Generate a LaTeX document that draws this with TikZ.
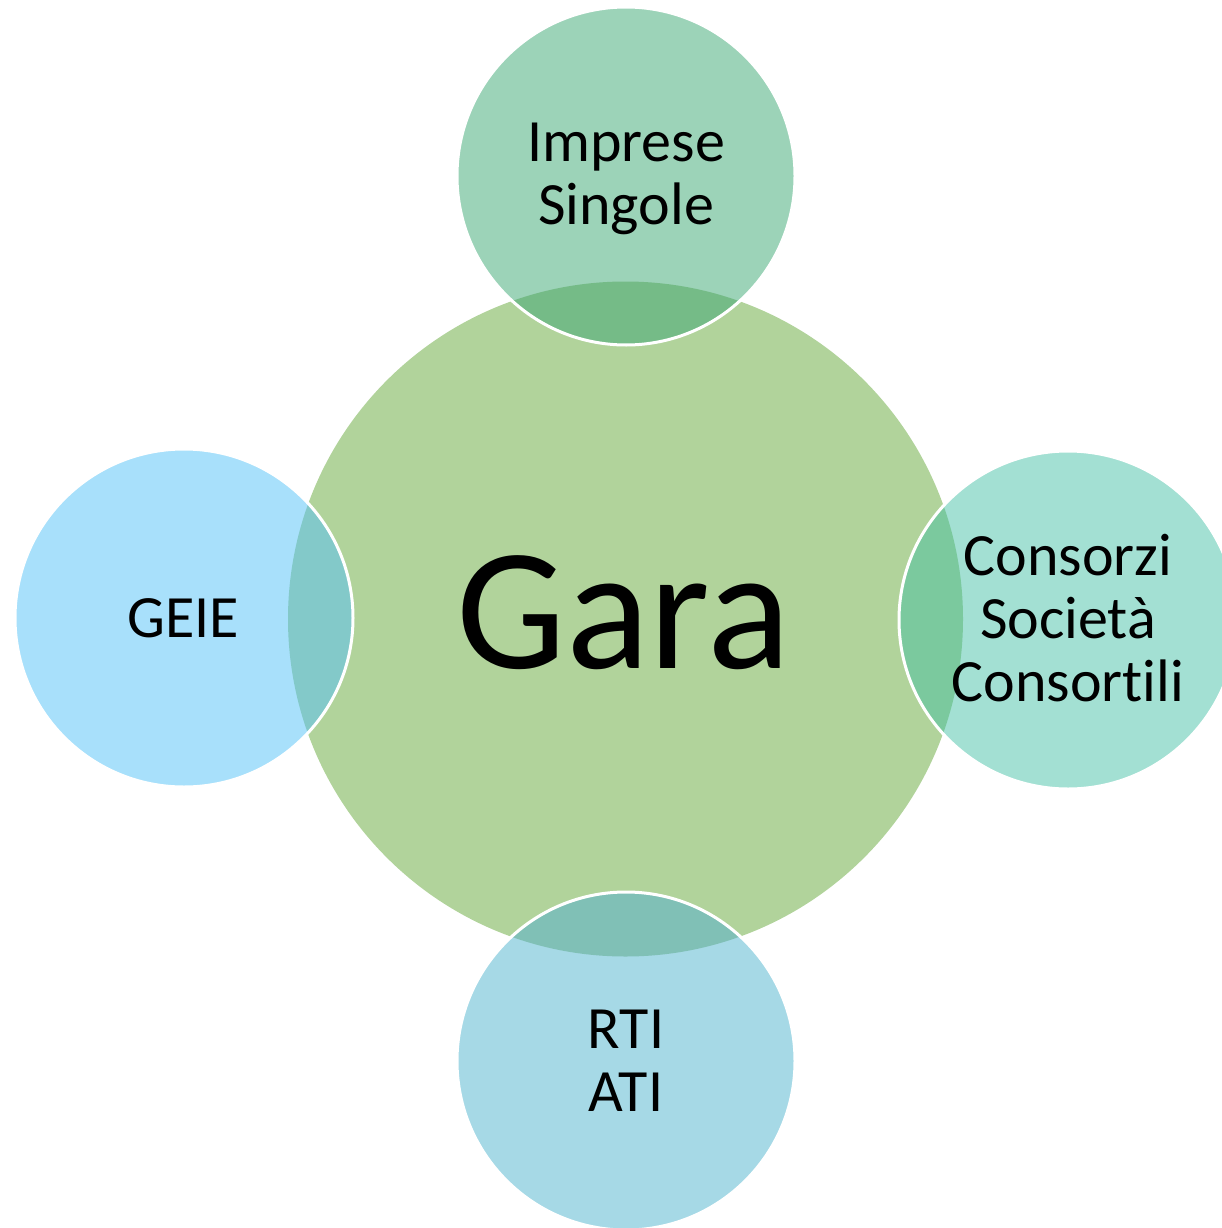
\documentclass[tikz,border=0pt]{standalone}
\usepackage{fontspec}
\setmainfont[Ligatures=NoCommon]{Carlito}
\definecolor{cGara}{HTML}{B1D39B}
\definecolor{cTop}{HTML}{9CD3B8}
\definecolor{oTop}{HTML}{75BB87}
\definecolor{cRight}{HTML}{A3E0D3}
\definecolor{oRight}{HTML}{7BC99E}
\definecolor{cLeft}{HTML}{A8E0FB}
\definecolor{oLeft}{HTML}{83C9C9}
\definecolor{cBottom}{HTML}{A6D9E6}
\definecolor{oBottom}{HTML}{80C0B6}
\tikzset{
  bigc/.style={circle, minimum size=675pt, inner sep=0pt, outer sep=0pt, draw=none},
  smallc/.style={circle, minimum size=338pt, inner sep=0pt, outer sep=0pt, draw=none},
  rim/.style={draw=white, line width=3pt},
  lbl/.style={align=center, text=black, font=\fontsize{60}{63}\selectfont, inner sep=0pt},
  biglbl/.style={text=black, font=\fontsize{174}{174}\selectfont, inner sep=0pt}
}
\begin{document}
\begin{tikzpicture}[x=1pt,y=-1pt]
\useasboundingbox (0,0) rectangle (1222,1228);
\clip (0,0) rectangle (1222,1228);
% circles
\node[bigc, fill=cGara] (gara) at (625.5,619) {};
\node[smallc, fill=cTop] (top) at (626,176) {};
\node[smallc, fill=cRight] (right) at (1068,620) {};
\node[smallc, fill=cLeft] (left) at (184,618) {};
\node[smallc, fill=cBottom] (bottom) at (626,1061) {};
% overlaps
\begin{scope}
  \clip (gara.center) circle (337.5pt);
  \fill[oTop] (top.center) circle (169pt);
  \fill[oRight] (right.center) circle (169pt);
  \fill[oLeft] (left.center) circle (169pt);
  \fill[oBottom] (bottom.center) circle (169pt);
\end{scope}
% white rims
\draw[rim] (top.center) circle (169pt);
\draw[rim] (right.center) circle (169pt);
\draw[rim] (left.center) circle (169pt);
\draw[rim] (bottom.center) circle (169pt);
% labels
\node[biglbl, anchor=base] (tgara) at (623.5,668) {Gara};
\node[lbl] (ttop) at (626,179) {Imprese\\Singole};
\node[lbl] (tright) at (1068,618) {Consorzi\\Società\\Consort\kern0pt ili};
\node[lbl] (tleft) at (183,618) {GEIE};
\node[lbl] (tbottom) at (626,1061) {RTI\\ATI};
\end{tikzpicture}
\end{document}
